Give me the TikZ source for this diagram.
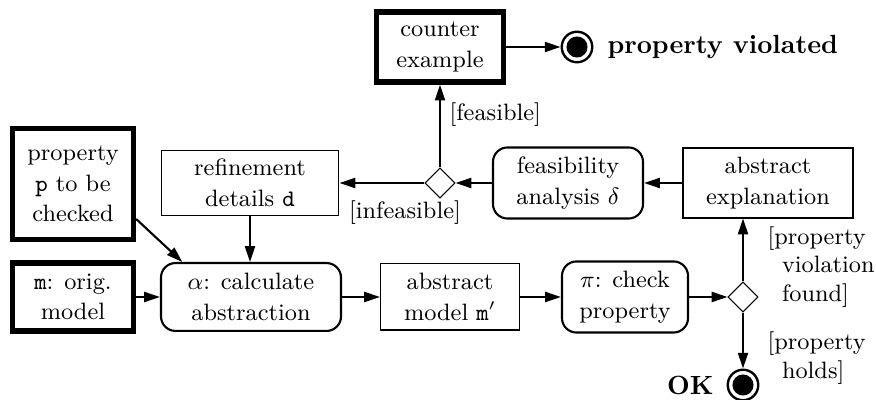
\documentclass[tikz,border=0pt]{standalone}
\usetikzlibrary{shapes.geometric,arrows.meta}
\begin{document}
\begin{tikzpicture}[x=0.38pt,y=-0.38pt,
  every node/.style={font=\fontsize{9}{11.6}\selectfont},
  box/.style={draw,line width=0.4pt,inner sep=0pt,align=center},
  thickbox/.style={draw,line width=2pt,inner sep=0pt,align=center},
  act/.style={draw,line width=0.8pt,rounded corners=5.5pt,inner sep=0pt,align=center},
  dec/.style={draw,diamond,line width=0.4pt,minimum width=11.4pt,minimum height=11.4pt,inner sep=0pt},
  fin/.style={draw,circle,line width=0.9pt,minimum size=11.6pt,inner sep=0pt},
  flow/.style={-{Triangle[length=6pt,width=3.8pt]},line width=0.8pt},
  lbl/.style={inner sep=0pt,align=left,font=\fontsize{9}{10.8}\selectfont},
  big/.style={inner sep=0pt,font=\fontsize{10}{12}\selectfont\bfseries}]
\useasboundingbox (0,0) rectangle (876,400);

% nodes
\node[thickbox,minimum width=48.3pt,minimum height=26.6pt] (counter) at (440,47) {counter\\example};
\node[fin] (fviol) at (577,47) {};
\fill (fviol.center) circle (4pt);
\node[big,anchor=west] (tviol) at (607,47) {property violated};

\node[dec] (d1) at (440,183) {};
\node[act,minimum width=57pt,minimum height=27pt] (feas) at (568,183) {feasibility\\analysis $\delta$};
\node[box,minimum width=64.6pt,minimum height=26.6pt] (absexp) at (768,183) {abstract\\explanation};
\node[box,minimum width=67.6pt,minimum height=24.7pt] (refine) at (250,183) {refinement\\details \texttt{d}};
\node[thickbox,minimum width=46pt,minimum height=42.2pt] (prop) at (73,184) {property\\\texttt{p} to be\\checked};

\node[thickbox,minimum width=46pt,minimum height=25.8pt] (morig) at (73,297) {\texttt{m}: orig.\\model};
\node[act,minimum width=68.4pt,minimum height=25.8pt] (alpha) at (251,297) {$\alpha$: calculate\\abstraction};
\node[box,minimum width=52.8pt,minimum height=25.1pt] (absmodel) at (450,297) {abstract\\model $\texttt{m}'$};
\node[act,minimum width=47.9pt,minimum height=27pt] (pi) at (625,297) {$\pi$: check\\property};
\node[dec] (d2) at (743,297) {};
\node[fin] (fok) at (743,385) {};
\fill (fok.center) circle (4pt);
\node[big,anchor=east] (tok) at (714,385) {OK};

% labels
\node[lbl,anchor=west] (lfeas) at (449,115) {[feasible]};
\node[lbl] (linfeas) at (405,213) {[infeasible]};
\node[lbl,anchor=west] (lviol) at (767,267) {[property\\\hspace*{5.5pt}violation\\\hspace*{5.5pt}found]};
\node[lbl,anchor=west] (lholds) at (767,358) {[property\\\hspace*{5.5pt}holds]};

% connectors
\draw[flow] (counter.east) -- (fviol.west);
\draw[flow] (d1.north) -- (counter.south);
\draw[flow] (d1.west) -- (refine.east);
\draw[flow] (feas.west) -- (d1.east);
\draw[flow] (absexp.west) -- (feas.east);
\draw[flow] (refine.south) -- (alpha.north -| refine.south);
\draw[flow] (prop.-29) -- (alpha.153);
\draw[flow] (morig.east) -- (alpha.west);
\draw[flow] (alpha.east) -- (absmodel.west);
\draw[flow] (absmodel.east) -- (pi.west);
\draw[flow] (pi.east) -- (d2.west);
\draw[flow] (d2.north) -- (d2.north |- absexp.south);
\draw[flow] (d2.south) -- (fok.north);
\end{tikzpicture}
\end{document}
